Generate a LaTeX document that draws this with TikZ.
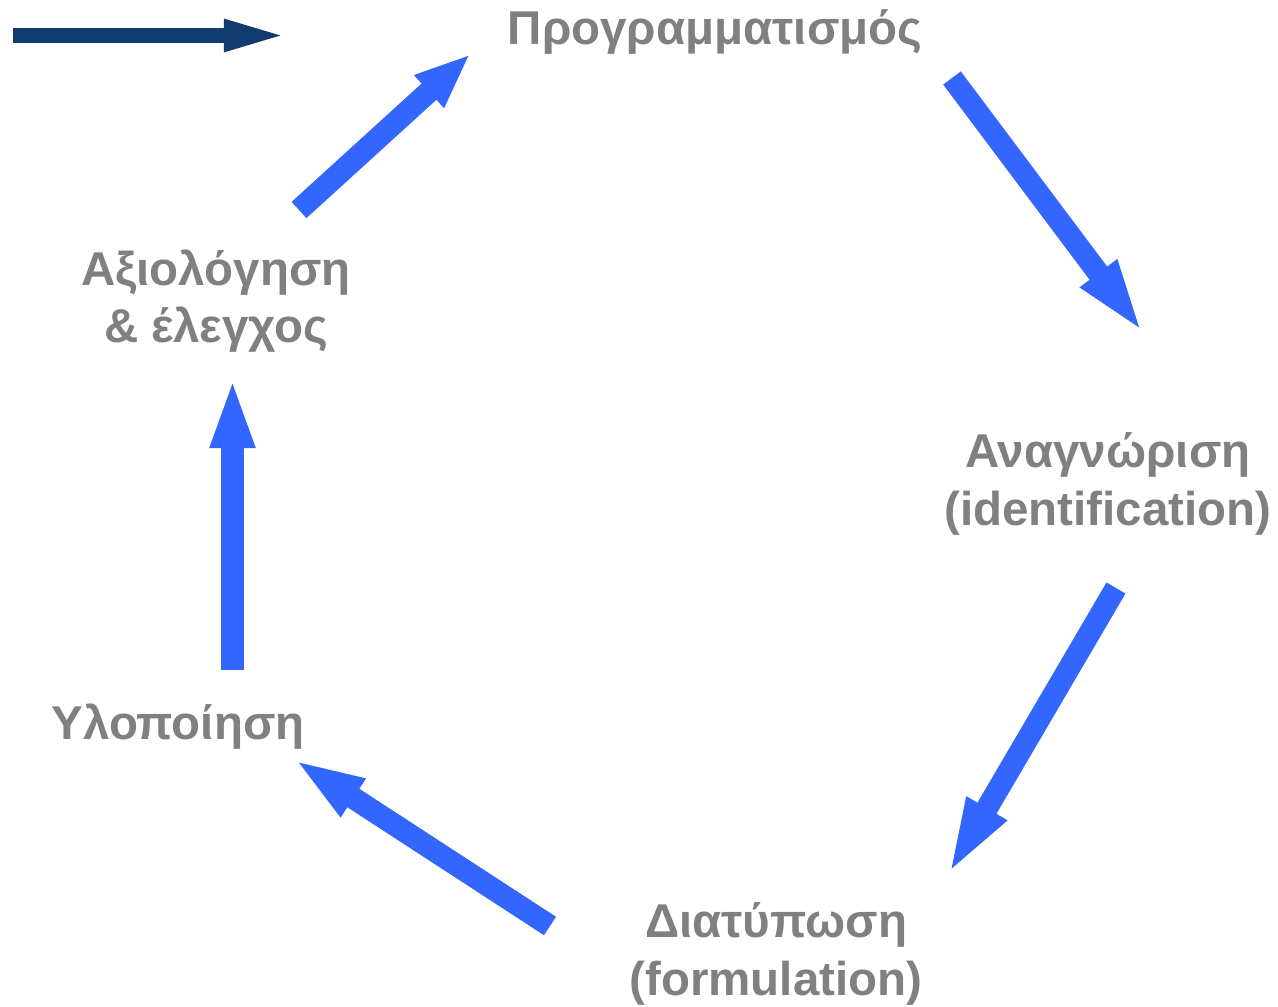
\documentclass[tikz,border=0pt]{standalone}
\usepackage{fontspec}
\setmainfont{Liberation Sans}
\usetikzlibrary{arrows.meta}
\definecolor{flowblue}{HTML}{3366FF}
\definecolor{keynavy}{RGB}{18,60,112}
\definecolor{labelgray}{HTML}{808080}

\begin{document}
\begin{tikzpicture}
  [x=0.01cm,y=-0.01cm,
   every node/.style={font=\fontsize{13.5}{16.4}\selectfont\bfseries,text=labelgray,align=center},
   flow/.style={draw=flowblue,line width=0.22cm,shorten >=-0.06cm,-{Triangle[width=0.40cm,length=#1]}}]
  \useasboundingbox (0,0) rectangle (1278,1007);

  \node (prog) at (715,32) {Προγραμματισμός};
  \node (anag) at (1108,484) {Αναγνώριση\\(identification)};
  \node (diat) at (776,954) {Διατύπωση\\(formulation)};
  \node (ylop) at (178,727) {Υλοποίηση};
  \node (axio) at (216,301) {Αξιολόγηση\\\& έλεγχος};

  \coordinate (s1) at (952,78);   \coordinate (t1) at (1141,330);
  \coordinate (s2) at (1116,588); \coordinate (t2) at (949,873);
  \coordinate (s3) at (550,926);  \coordinate (t3) at (298,762);
  \coordinate (s4) at (232.5,670); \coordinate (t4) at (232.5,383);
  \coordinate (s5) at (299,210);  \coordinate (t5) at (466,58);
  \coordinate (k1) at (13,35.5);  \coordinate (k2) at (284,35.5);

  \foreach \from/\to/\len in {s1/t1/0.77cm,s2/t2/0.81cm,s3/t3/0.72cm,s4/t4/0.71cm,s5/t5/0.56cm}
    \draw[flow=\len] (\from) -- (\to);

  \draw[keynavy,line width=0.15cm,shorten >=-0.07cm,-{Triangle[width=0.28cm,length=0.67cm]}] (k1) -- (k2);

\end{tikzpicture}
\end{document}
